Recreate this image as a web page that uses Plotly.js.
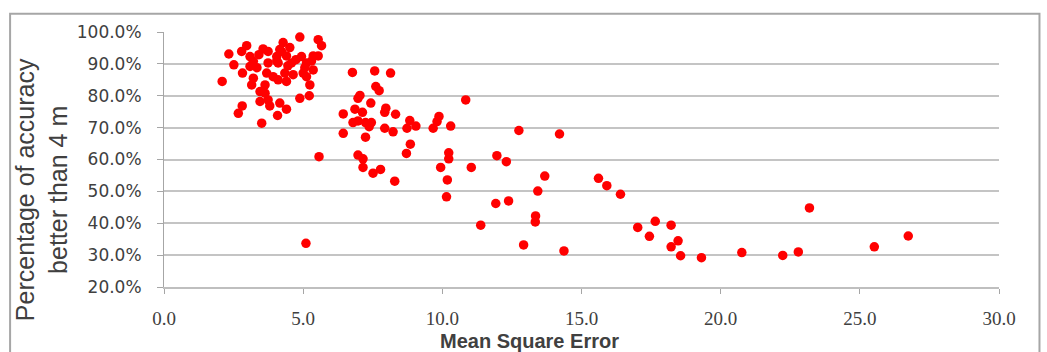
<!DOCTYPE html>
<html>
<head>
<meta charset="utf-8">
<script src="https://cdn.plot.ly/plotly-3.0.1.min.js"></script>
<style>
  html, body { margin: 0; padding: 0; background: #ffffff; }
  #chart { width: 1047px; height: 352px; }
</style>
</head>
<body>
<div id="chart"></div>
<script>
// Mean Square Error (x) for each test
const mseValues = [
  2.09, 2.33, 2.51, 2.79, 2.97, 2.82, 3.09, 3.21, 3.09, 3.21, 3.15, 3.45, 3.63, 3.63, 3.45, 3.74,
  2.81, 2.67, 3.51, 3.80, 4.16, 4.08, 4.40, 4.88, 5.22, 5.24, 5.36, 4.88, 5.54, 5.66, 4.28, 3.56,
  3.74, 4.05, 4.22, 4.10, 3.74, 3.69, 3.92, 4.10, 4.40, 4.34, 4.64, 5.00, 4.94, 5.12, 5.36, 5.54,
  5.12, 5.06, 5.30, 4.58, 4.40, 4.05, 4.45, 4.74, 4.16, 4.52, 3.41, 3.34,
  6.77, 7.57, 8.14, 7.61, 7.73, 7.04, 6.97, 7.43, 6.44, 6.86, 7.13, 7.97, 7.93, 8.32, 6.79, 6.97,
  7.24, 7.45, 7.37, 6.44, 7.24, 7.93, 8.23, 8.83, 8.73, 9.05, 9.88, 9.81, 9.67, 10.30, 10.84, 12.75,
  14.21, 8.85, 8.71, 5.57, 6.97, 7.15, 10.23, 10.23, 11.96, 12.30, 7.15, 7.78, 7.51, 8.29, 9.94, 11.04,
  10.18, 10.15, 13.68, 13.43, 11.92, 12.38, 13.35, 13.34, 11.38, 12.92, 14.37, 5.10,
  15.61, 15.91, 16.40, 17.02, 17.65, 18.22, 17.44, 18.47, 18.22, 18.56, 19.31, 20.76, 22.23, 22.79,
  23.19, 25.52, 26.74
];
// Percentage of accuracy better than 4 m (y) for each test
const accuracyValues = [
  84.5, 93.1, 89.7, 93.9, 95.7, 87.1, 92.3, 90.8, 89.2, 85.5, 83.4, 81.3, 83.4, 80.8, 78.2, 78.7,
  76.8, 74.5, 71.4, 76.8, 77.7, 73.8, 75.8, 79.2, 80.0, 83.4, 88.1, 98.4, 97.6, 95.7, 96.7, 94.7,
  93.9, 92.3, 93.9, 90.3, 90.3, 87.1, 86.0, 85.0, 84.5, 87.1, 86.6, 87.1, 92.3, 90.3, 92.5, 92.5,
  86.0, 88.8, 90.9, 90.3, 92.5, 90.9, 89.4, 91.3, 94.5, 95.1, 92.9, 88.8,
  87.3, 87.8, 87.1, 82.9, 81.6, 80.1, 79.2, 77.7, 74.3, 75.8, 74.8, 76.1, 74.8, 74.2, 71.6, 72.1,
  71.6, 71.6, 70.3, 68.2, 67.0, 69.8, 68.7, 72.2, 69.8, 70.5, 73.5, 71.9, 69.8, 70.5, 78.7, 69.1,
  68.0, 64.8, 61.9, 60.9, 61.4, 60.2, 62.1, 60.2, 61.2, 59.3, 57.5, 56.9, 55.7, 53.2, 57.5, 57.5,
  53.6, 48.3, 54.8, 50.1, 46.2, 47.0, 42.3, 40.4, 39.4, 33.2, 31.3, 33.7,
  54.1, 51.8, 49.1, 38.7, 40.6, 39.4, 35.9, 34.5, 32.6, 29.8, 29.2, 30.8, 29.9, 31.0,
  44.8, 32.6, 36.0
];
const xTickValues = [0, 5, 10, 15, 20, 25, 30];
const yTickValues = [20, 30, 40, 50, 60, 70, 80, 90, 100];
const xTitle = 'Mean Square Error';
const yTitle = 'Percentage of accuracy<br>better than 4 m';

const trace = {
  type: 'scatter',
  mode: 'markers',
  x: mseValues,
  y: accuracyValues,
  marker: { color: '#ff0000', size: 9.5, line: { width: 0 } },
  hoverinfo: 'x+y',
  cliponaxis: false
};

const L = 164, R = 47.5, T = 32.3, B = 65.3;
const W = 1047 - L - R, H = 352 - T - B;
const px = v => (v - L) / W;
const py = v => (352 - B - v) / H;

const layout = {
  width: 1047,
  height: 352,
  margin: { l: L, r: R, t: T, b: B, pad: 0 },
  paper_bgcolor: '#ffffff',
  plot_bgcolor: '#ffffff',
  showlegend: false,
  xaxis: {
    range: [0, 30],
    tickmode: 'array',
    tickvals: xTickValues,
    ticktext: xTickValues.map(v => v.toFixed(1)),
    showgrid: false,
    zeroline: false,
    showline: true,
    linecolor: '#bfbfbf',
    linewidth: 2,
    ticks: 'outside',
    ticklen: 5,
    tickwidth: 1,
    tickcolor: '#a6a6a6',
    ticklabelstandoff: 8,
    tickfont: { family: '"Liberation Serif", "DejaVu Serif", serif', size: 19, color: '#404040' }
  },
  yaxis: {
    range: [20, 100],
    tickmode: 'array',
    tickvals: yTickValues,
    ticktext: yTickValues.map(v => v.toFixed(1) + '%'),
    showgrid: true,
    gridcolor: '#c4c4c4',
    gridwidth: 2,
    zeroline: false,
    showline: true,
    linecolor: '#a6a6a6',
    linewidth: 1,
    ticks: 'outside',
    ticklen: 6,
    tickwidth: 1,
    tickcolor: '#a6a6a6',
    ticklabelstandoff: 12,
    tickfont: { family: '"DejaVu Sans", sans-serif', size: 17, color: '#404040' }
  },
  shapes: [{
    type: 'rect', xref: 'paper', yref: 'paper',
    x0: px(10), x1: px(1040), y0: py(400), y1: py(14),
    line: { color: '#a6a6a6', width: 2 }, fillcolor: 'rgba(0,0,0,0)', layer: 'below'
  }],
  annotations: [
    {
      text: xTitle, xref: 'paper', yref: 'paper', x: px(530), y: py(341),
      xanchor: 'center', yanchor: 'middle', showarrow: false,
      font: { family: '"Liberation Sans", Arial, sans-serif', size: 20, color: '#404040', weight: 'bold' }
    },
    {
      text: yTitle, xref: 'paper', yref: 'paper', x: px(41), y: py(190),
      xanchor: 'center', yanchor: 'middle', showarrow: false, textangle: -90,
      font: { family: '"Liberation Sans", Arial, sans-serif', size: 25, color: '#404040' }
    }
  ]
};

Plotly.newPlot('chart', [trace], layout, { staticPlot: true, displayModeBar: false });
</script>
</body>
</html>
